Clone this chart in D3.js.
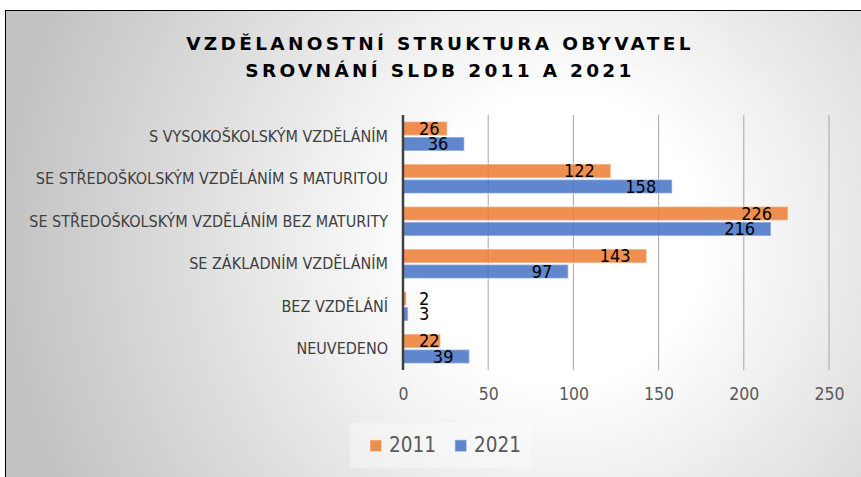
<!DOCTYPE html>
<html>
<head>
<meta charset="utf-8">
<script src="https://cdn.jsdelivr.net/npm/d3@7"></script>
<style>
  body { margin: 0; background: #fff; }
  svg { display: block; }
</style>
</head>
<body>
<svg id="chart" width="861" height="477"></svg>
<script>
// data
const kategorie = [
  "S VYSOKOŠKOLSKÝM VZDĚLÁNÍM",
  "SE STŘEDOŠKOLSKÝM VZDĚLÁNÍM S MATURITOU",
  "SE STŘEDOŠKOLSKÝM VZDĚLÁNÍM BEZ MATURITY",
  "SE ZÁKLADNÍM VZDĚLÁNÍM",
  "BEZ VZDĚLÁNÍ",
  "NEUVEDENO"
];
const roky = ["2011", "2021"];
const hodnoty2011 = [26, 122, 226, 143, 2, 22];
const hodnoty2021 = [36, 158, 216, 97, 3, 39];
const ticky = [0, 50, 100, 150, 200, 250];
const titulek = ["VZDĚLANOSTNÍ STRUKTURA OBYVATEL", "SROVNÁNÍ SLDB 2011 A 2021"];

const barvy = { "2011": "#ED7D31", "2021": "#4472C4" };
const FONT = "'DejaVu Sans Condensed', 'DejaVu Sans', sans-serif";

const svg = d3.select("#chart");

// pozadí s radiálním přechodem
const defs = svg.append("defs");
const grad = defs.append("radialGradient")
  .attr("id", "bg")
  .attr("gradientUnits", "userSpaceOnUse")
  .attr("cx", 560).attr("cy", 240).attr("r", 560);
grad.append("stop").attr("offset", "0%").attr("stop-color", "#ffffff");
grad.append("stop").attr("offset", "25%").attr("stop-color", "#ffffff");
grad.append("stop").attr("offset", "100%").attr("stop-color", "#c2c2c2");

svg.append("rect")
  .attr("x", 5.5).attr("y", 10.5)
  .attr("width", 870).attr("height", 480)
  .attr("fill", "url(#bg)")
  .attr("stroke", "#000")
  .attr("stroke-width", 1);

// titulek
svg.append("g").selectAll("text")
  .data(titulek)
  .enter()
  .append("text")
  .attr("x", 440)
  .attr("y", (d, i) => 50 + i * 26.5)
  .attr("text-anchor", "middle")
  .attr("font-family", "'DejaVu Sans', Verdana, sans-serif")
  .attr("font-weight", "bold")
  .attr("font-size", 18.5)
  .attr("letter-spacing", 3.3)
  .attr("fill", "#000")
  .text(d => d);

// skály
const x = d3.scaleLinear().domain([0, 250]).range([403, 829]);
const y = d3.scaleBand().domain(kategorie).range([115, 370])
  .paddingInner(0.27).paddingOuter(0.135);
const y1 = d3.scaleBand().domain(roky).range([0, y.bandwidth()]);

// mřížka
svg.append("g").selectAll("line")
  .data(ticky.slice(1))
  .enter()
  .append("line")
  .attr("x1", d => x(d)).attr("x2", d => x(d))
  .attr("y1", 115).attr("y2", 370)
  .attr("stroke", "#a6a6a6")
  .attr("stroke-width", 1);

// popisky osy x
const osaX = d3.axisBottom(x).tickValues(ticky).tickSize(0).tickPadding(0);
const gx = svg.append("g")
  .attr("transform", "translate(0,388)")
  .call(osaX);
gx.select(".domain").remove();
gx.selectAll("text")
  .attr("font-family", FONT)
  .attr("font-size", 17.5)
  .attr("fill", "#595959");

// popisky kategorií
svg.append("g").selectAll("text")
  .data(kategorie)
  .enter()
  .append("text")
  .attr("x", 388)
  .attr("y", d => y(d) + y.bandwidth() / 2)
  .attr("dy", "0.35em")
  .attr("text-anchor", "end")
  .attr("font-family", FONT)
  .attr("font-size", 16)
  .attr("fill", "#404040")
  .text(d => d);

// sloupce
const radky = kategorie.map((k, i) => ({
  kat: k,
  serie: [
    { rok: "2011", v: hodnoty2011[i] },
    { rok: "2021", v: hodnoty2021[i] }
  ]
}));

const skupiny = svg.append("g").selectAll("g")
  .data(radky)
  .enter()
  .append("g")
  .attr("transform", d => `translate(0,${y(d.kat)})`);

skupiny.selectAll("rect")
  .data(d => d.serie)
  .enter()
  .append("rect")
  .attr("x", x(0))
  .attr("y", d => y1(d.rok) + 0.75)
  .attr("width", d => x(d.v) - x(0))
  .attr("height", y1.bandwidth() - 1.5)
  .attr("fill", d => barvy[d.rok])
  .attr("fill-opacity", 0.85)
  .attr("stroke", "#ffffff")
  .attr("stroke-opacity", 0.45)
  .attr("stroke-width", 1.5);

// hodnoty
skupiny.selectAll("text")
  .data(d => d.serie)
  .enter()
  .append("text")
  .attr("y", d => y1(d.rok) + y1.bandwidth() / 2)
  .attr("dy", "0.36em")
  .attr("text-anchor", "end")
  .attr("font-family", FONT)
  .attr("font-size", 18)
  .attr("fill", "#000")
  .text(d => d.v)
  .attr("x", function(d) {
    const w = this.getComputedTextLength();
    return Math.max(x(d.v) - 16, x(0) + 16 + w);
  });

// osa y (čára v nule)
svg.append("line")
  .attr("x1", x(0)).attr("x2", x(0))
  .attr("y1", 115).attr("y2", 370)
  .attr("stroke", "#404040")
  .attr("stroke-width", 2.5);

// legenda
const leg = svg.append("g");
leg.append("rect")
  .attr("x", 350).attr("y", 423)
  .attr("width", 181).attr("height", 45)
  .attr("fill", "#ffffff")
  .attr("fill-opacity", 0.35);

const polozky = leg.selectAll("g")
  .data(roky)
  .enter()
  .append("g")
  .attr("transform", (d, i) => `translate(${369 + i * 85},0)`);

polozky.append("rect")
  .attr("x", 0.75).attr("y", 439.75)
  .attr("width", 12).attr("height", 12)
  .attr("fill", d => barvy[d])
  .attr("fill-opacity", 0.85)
  .attr("stroke", "#ffffff")
  .attr("stroke-opacity", 0.45)
  .attr("stroke-width", 1.5);

polozky.append("text")
  .attr("x", 20).attr("y", 452)
  .attr("font-family", FONT)
  .attr("font-size", 20.5)
  .attr("fill", "#595959")
  .text(d => d);
</script>
</body>
</html>
